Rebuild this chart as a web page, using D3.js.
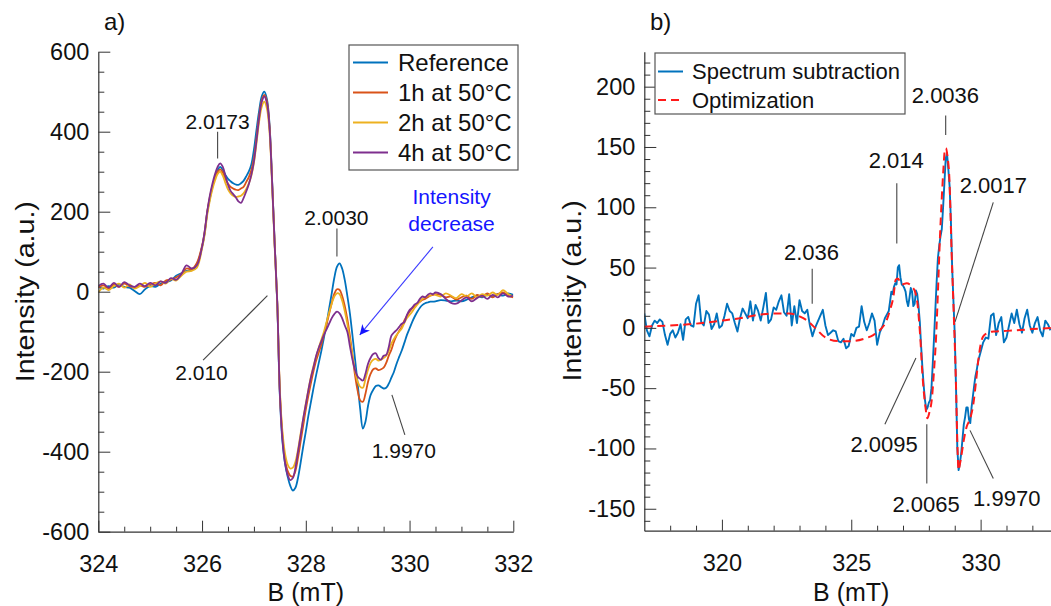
<!DOCTYPE html>
<html><head><meta charset="utf-8">
<script src="https://cdn.jsdelivr.net/npm/d3@7"></script>
<style>body{margin:0;background:#fff}svg text{font-family:"Liberation Sans",Arial,Helvetica,sans-serif}</style>
</head><body><svg id="c" width="1051" height="606"></svg>
<script>
// ---------------- DATA: panel a) ----------------
const seriesNamesA = ["Reference", "1h at 50°C", "2h at 50°C", "4h at 50°C"];
const fieldA = [324.0,324.1,324.2,324.3,324.4,324.5,324.6,324.7,324.8,324.9,
325.0,325.1,325.2,325.3,325.4,325.5,325.6,325.7,325.8,325.9,
326.00,326.05,326.10,326.15,326.20,326.25,326.30,326.35,326.40,326.45,
326.50,326.55,326.60,326.65,326.70,326.75,326.80,326.85,326.90,326.95,
327.00,327.05,327.10,327.15,327.20,327.25,327.30,327.35,327.40,327.45,
327.50,327.55,327.60,327.65,327.70,327.75,327.80,327.85,327.90,327.95,
328.00,328.05,328.10,328.15,328.20,328.25,328.30,328.35,328.40,328.45,
328.50,328.55,328.60,328.65,328.70,328.75,328.80,328.85,328.90,328.95,
329.00,329.05,329.10,329.15,329.20,329.25,329.30,329.35,329.40,329.45,
329.50,329.55,329.60,329.65,329.70,329.75,329.80,329.85,329.90,329.95,
330.00,330.05,330.10,330.15,330.20,330.25,330.30,330.35,330.40,330.45,
330.50,
330.6,330.7,330.8,330.9,331.0,331.1,331.2,331.3,331.4,331.5,331.6,331.7,331.8,331.9,332.0];

const refA = [12,8,14,10,18,12,10,2,-6,6,
14,12,20,24,28,40,46,52,54,68,
112,146,198,232,262,286,303,312,304,292,
282,276,271,268,267,271,277,288,300,318,
355,405,452,488,500,482,420,280,120,-30,
-260,-375,-430,-462,-485,-497,-490,-465,-428,-387,
-350,-310,-275,-240,-208,-178,-148,-115,-80,-42,
-4,35,62,71,58,30,-10,-54,-110,-170,
-230,-295,-342,-325,-285,-258,-245,-236,-234,-238,
-242,-240,-230,-215,-200,-180,-163,-147,-128,-108,
-92,-76,-62,-50,-40,-33,-29,-27,-25,-25,
-24,
-21,-22,-24,-22,-24,-20,-14,-10,-14,-8,-12,-6,-10,-4,-8];

const h1A = [10,16,8,18,12,20,14,10,16,12,
18,22,16,28,30,36,44,58,56,72,
115,150,200,236,264,286,300,306,298,282,
270,262,258,255,254,258,262,274,286,304,
334,385,438,478,492,476,415,278,120,-25,
-250,-360,-420,-448,-460,-462,-448,-415,-375,-335,
-295,-260,-228,-198,-172,-152,-132,-108,-82,-55,
-28,-5,6,5,-10,-35,-68,-110,-160,-210,
-248,-272,-275,-255,-225,-205,-194,-192,-196,-194,
-190,-178,-160,-145,-125,-110,-98,-88,-72,-60,
-50,-42,-36,-30,-25,-20,-18,-14,-10,-8,
-6,
-8,-14,-12,-20,-14,-10,-18,-8,-12,-4,-14,-6,-2,-10,-14];

const h2A = [-2,10,4,14,20,10,18,8,14,22,
12,20,26,20,32,28,40,50,52,60,
108,142,192,228,256,278,294,300,290,272,
256,246,240,237,238,240,246,256,270,290,
322,372,425,462,475,458,400,268,112,-30,
-245,-350,-405,-432,-442,-440,-425,-395,-355,-318,
-280,-245,-212,-185,-162,-140,-120,-100,-76,-52,
-30,-12,-4,-6,-22,-48,-80,-120,-160,-198,
-225,-238,-240,-218,-195,-178,-170,-168,-172,-170,
-166,-160,-148,-130,-118,-108,-100,-92,-78,-66,
-58,-50,-40,-32,-24,-18,-14,-10,-10,-6,
-8,
-12,-4,-10,-16,-6,-12,-4,-14,-6,-10,-2,-8,4,-6,-12];

const h4A = [14,20,10,22,12,24,16,12,20,14,
22,16,26,22,34,30,44,66,58,66,
112,150,200,240,270,294,312,321,312,290,
268,252,244,236,226,222,234,250,268,292,
326,378,434,474,488,472,410,275,118,-28,
-255,-368,-428,-458,-471,-466,-440,-400,-360,-318,
-282,-246,-214,-188,-160,-140,-124,-108,-94,-80,
-66,-56,-50,-54,-66,-84,-100,-136,-170,-196,
-212,-218,-222,-205,-180,-165,-156,-154,-166,-170,
-160,-158,-138,-110,-102,-96,-88,-80,-76,-58,
-46,-40,-32,-28,-18,-12,-14,-8,-4,-6,
-2,
-6,-18,-28,-30,-22,-14,-24,-16,-10,-18,-8,-14,-4,-12,-10];

const xTicksA = [324,326,328,330,332];
const yTicksA = [-600,-400,-200,0,200,400,600];

// ---------------- DATA: panel b) ----------------
const seriesNamesB = ["Spectrum subtraction", "Optimization"];
const fieldSub = [317.0,317.1,317.2,317.3,317.4,317.5,317.6,317.7,317.8,317.9,
318.0,318.1,318.2,318.3,318.4,318.5,318.6,318.7,318.8,318.9,
319.0,319.1,319.2,319.3,319.4,319.5,319.6,319.7,319.8,319.9,
320.0,320.1,320.2,320.3,320.4,320.5,320.6,320.7,320.8,320.9,
321.0,321.1,321.2,321.3,321.4,321.5,321.6,321.7,321.8,321.9,
322.0,322.1,322.2,322.3,322.4,322.5,322.6,322.7,322.8,322.9,
323.0,323.1,323.2,323.3,323.4,323.5,323.6,323.7,323.8,323.9,
324.0,324.1,324.2,324.3,324.4,324.5,324.6,324.7,324.8,324.9,
325.0,325.1,325.2,325.3,325.4,325.5,325.6,325.7,325.8,325.9,
326.0,326.1,326.2,326.3,326.4,
326.45,326.50,326.55,326.60,326.65,326.70,326.75,326.80,326.85,326.90,
326.95,327.00,327.05,327.10,327.15,327.20,327.25,327.30,327.35,327.40,
327.45,327.50,327.55,327.60,327.65,327.70,327.75,327.80,327.85,327.90,
327.95,328.00,328.05,328.10,328.15,328.20,328.25,328.30,328.35,328.40,
328.45,328.50,328.55,328.60,328.65,328.70,328.75,328.80,328.85,328.90,
328.95,329.00,329.05,329.10,329.15,329.20,329.25,329.30,329.35,329.40,
329.45,329.50,329.55,329.60,329.65,329.70,329.75,329.80,329.85,329.90,
329.95,330.00,
330.1,330.2,330.3,330.4,330.5,330.6,330.7,330.8,330.9,331.0,
331.1,331.2,331.3,331.4,331.5,331.6,331.7,331.8,331.9,332.0,
332.1,332.2,332.3,332.4,332.5,332.6,332.7];

const subI = [12,-2,-7,2,6,4,7,5,-6,-14,
-5,-2,-8,-4,3,-10,7,9,2,1,
20,27,5,2,14,11,-1,3,12,0,
2,10,20,14,12,4,-3,8,16,12,
8,22,6,19,14,6,17,29,4,7,
17,15,22,27,13,10,28,2,18,4,
23,14,12,15,2,-7,0,5,10,15,
2,-6,-4,-2,-3,-11,-12,-9,-17,-15,
-5,-7,0,1,18,5,-2,4,12,6,
-14,-4,1,8,12,
14,22,30,28,34,37,36,50,52,42,
36,35,33,30,22,18,25,33,30,18,
20,31,28,18,5,-15,-33,-48,-60,-68,
-66,-62,-60,-50,-30,-8,15,38,58,68,
76,82,100,120,140,145,132,118,90,50,
22,-5,-50,-100,-118,-112,-104,-92,-80,-74,
-66,-66,-76,-79,-66,-57,-48,-40,-35,-28,
-24,-20,
-12,-8,-9,10,12,-6,4,9,-12,-8,
2,12,4,15,3,-4,8,15,2,-4,
4,9,-2,-7,6,3,-2];

const fieldOpt = [317.0,318.0,319.0,320.0,320.7,321.5,322.0,322.6,323.0,323.3,323.6,324.0,324.5,325.0,325.5,325.85,326.1,326.37,326.5,326.63,326.72,326.8,326.95,327.14,327.35,327.48,327.56,327.62,327.68,327.74,327.8,327.87,327.94,328.02,328.11,328.2,328.28,328.35,328.43,328.5,328.56,328.62,328.66,328.72,328.79,328.88,328.97,329.05,329.1,329.15,329.2,329.27,329.35,329.46,329.6,329.72,329.82,329.91,330.0,330.1,330.3,330.49,331.0,331.4,332.0,332.74];
const optI = [1,2,3.5,6,8,11,12,12,9.5,6,0,-8,-11,-11,-9,-6,-2,6.5,15,26,40,41,36,37,34,29,20,6,-12,-35,-52,-66,-75,-70,-60,-35,-7,30,76,108,131,148,149,142,125,62,6.5,-49,-95,-118,-113,-104,-93,-82,-75,-63,-45,-27,-14,-7,-4,-3,-2.5,-2,-1,0];

const xTicksB = [320,325,330];
const yTicksB = [-150,-100,-50,0,50,100,150,200];

// annotations (data coordinates)
const notesA = [
  {t:"2.0173", tx:326.30, ty:426, l:[[326.30,400],[326.30,333]]},
  {t:"2.0030", tx:328.59, ty:185, l:[[328.60,158],[328.60,88]]},
  {t:"2.010",  tx:325.99, ty:-203, l:[[326.02,-171],[327.26,-10]]},
  {t:"1.9970", tx:329.89, ty:-396, l:[[329.91,-358],[329.66,-258]]}
];
const decreaseText = ["Intensity", "decrease"];
const decreasePos = [[330.81,237],[330.81,171]];
const decreaseArrow = [[330.45,112],[329.04,-108]];
const notesB = [
  {t:"2.0036", tx:328.64, ty:193, l:[[328.65,176],[328.65,160]]},
  {t:"2.014",  tx:326.74, ty:139, l:[[326.76,120],[326.76,70]]},
  {t:"2.0017", tx:330.49, ty:118, l:[[330.49,104],[329.01,5]]},
  {t:"2.036",  tx:323.46, ty:63, l:[[323.49,49],[323.49,20]]},
  {t:"2.0095", tx:326.27, ty:-96, l:[[326.30,-80],[327.50,-25]]},
  {t:"2.0065", tx:327.89, ty:-146, l:[[327.92,-129],[327.92,-80]]},
  {t:"1.9970", tx:331.01, ty:-141, l:[[330.49,-125],[329.59,-85]]}
];

// ---------------- checks ----------------
[refA,h1A,h2A,h4A].forEach((s,i)=>{ if (s.length!==fieldA.length) throw new Error("A series "+i+" len "+s.length+" vs "+fieldA.length); });
if (subI.length!==fieldSub.length) throw new Error("sub len "+subI.length+" vs "+fieldSub.length);
if (optI.length!==fieldOpt.length) throw new Error("opt len");

// ---------------- DRAW ----------------
const svg = d3.select("#c");
const colorsA = ["#0072BD","#D95319","#EDB120","#7E2F8E"];
const axisColor = "#333";

const xA = d3.scaleLinear().domain([324,332]).range([98.3,513.3]);
const yA = d3.scaleLinear().domain([-600,600]).range([531.7,51.7]);
const xB = d3.scaleLinear().domain([317,332.74]).range([644.3,1051.5]);
const yB = d3.scaleLinear().domain([-168.2,229]).range([530.7,51.7]);

function drawAxes(x, y, xMaj, xMin, yMaj, yMin, fs, padY) {
  const bottom = y.range()[0], left = x.range()[0];
  const g = svg.append("g");
  g.append("g").attr("transform",`translate(0,${bottom})`)
    .call(d3.axisBottom(x).tickValues(xMin).tickSize(-5).tickFormat(""))
    .call(a=>a.select(".domain").remove());
  g.append("g").attr("transform",`translate(${left},0)`)
    .call(d3.axisLeft(y).tickValues(yMin).tickSize(-6).tickFormat(""))
    .call(a=>a.select(".domain").remove());
  g.append("g").attr("transform",`translate(0,${bottom})`)
    .call(d3.axisBottom(x).tickValues(xMaj).tickSize(-11).tickSizeOuter(0).tickPadding(24).tickFormat(d3.format("d")));
  g.append("g").attr("transform",`translate(${left},0)`)
    .call(d3.axisLeft(y).tickValues(yMaj).tickSize(-12).tickSizeOuter(0).tickPadding(padY).tickFormat(d=>String(d)));
  g.selectAll("path.domain").attr("stroke",axisColor).attr("stroke-width",1.2);
  g.selectAll(".tick line").attr("stroke",axisColor).attr("stroke-width",1);
  g.selectAll(".tick text").attr("fill","#111").attr("font-size",fs)
    .attr("font-family","'Liberation Sans',Arial,sans-serif");
}

// ---- panel a
const minorXA = d3.range(324,332.01,0.5).filter(v=>Math.abs(v%2)>1e-6);
const minorYA = d3.range(-600,600.1,50).filter(v=>Math.abs(v%200)>1e-6);
svg.append("clipPath").attr("id","clipA").append("rect")
  .attr("x",98.3).attr("y",40).attr("width",415).attr("height",491.7);
const lineA = d3.line().x((d,i)=>xA(fieldA[i])).y(d=>yA(d)).curve(d3.curveCatmullRom.alpha(0.5));
const gA = svg.append("g").attr("clip-path","url(#clipA)");
[refA,h1A,h2A,h4A].forEach((s,i)=>{
  gA.append("path").datum(s).attr("d",lineA).attr("fill","none")
    .attr("stroke",colorsA[i]).attr("stroke-width",1.8).attr("stroke-linejoin","round");
});
drawAxes(xA,yA,xTicksA,minorXA,yTicksA,minorYA,23.5,9);

const noteG = svg.append("g");
notesA.forEach(n=>{
  noteG.append("line").attr("x1",xA(n.l[0][0])).attr("y1",yA(n.l[0][1]))
    .attr("x2",xA(n.l[1][0])).attr("y2",yA(n.l[1][1])).attr("stroke","#444").attr("stroke-width",1.1);
  noteG.append("text").attr("x",xA(n.tx)).attr("y",yA(n.ty)).attr("dy","0.36em")
    .attr("text-anchor","middle").attr("font-size",21).attr("fill","#111").text(n.t);
});
decreaseText.forEach((t,i)=>{
  noteG.append("text").attr("x",xA(decreasePos[i][0])).attr("y",yA(decreasePos[i][1])).attr("dy","0.36em")
    .attr("text-anchor","middle").attr("font-size",21).attr("fill","#1515ff").text(t);
});
svg.append("defs").append("marker").attr("id","arr").attr("viewBox","0 0 10 10")
  .attr("refX",10).attr("refY",5).attr("markerWidth",12).attr("markerHeight",10)
  .attr("markerUnits","userSpaceOnUse").attr("orient","auto")
  .append("path").attr("d","M0,0 L10,5 L0,10 L3,5 Z").attr("fill","#1515ff");
noteG.append("line").attr("x1",xA(decreaseArrow[0][0])).attr("y1",yA(decreaseArrow[0][1]))
  .attr("x2",xA(decreaseArrow[1][0])).attr("y2",yA(decreaseArrow[1][1]))
  .attr("stroke","#3a3aff").attr("stroke-width",1.1).attr("marker-end","url(#arr)");

const legA = svg.append("g");
legA.append("rect").attr("x",349).attr("y",45).attr("width",169).attr("height",125)
  .attr("fill","#fff").attr("stroke","#555").attr("stroke-width",1.2);
seriesNamesA.forEach((nm,i)=>{
  const yy = 62.5 + i*30;
  legA.append("line").attr("x1",353).attr("x2",388).attr("y1",yy).attr("y2",yy)
    .attr("stroke",colorsA[i]).attr("stroke-width",1.8);
  legA.append("text").attr("x",398).attr("y",yy).attr("dy","0.36em").attr("font-size",24).attr("fill","#111").text(nm);
});

// ---- panel b
const minorXB = d3.range(318,333,1).filter(v=>v%5!==0);
const minorYB = d3.range(-160,230,10).filter(v=>v%50!==0);
svg.append("clipPath").attr("id","clipB").append("rect")
  .attr("x",644.3).attr("y",45).attr("width",410).attr("height",485.7);
const gB = svg.append("g").attr("clip-path","url(#clipB)");
const lineSub = d3.line().x((d,i)=>xB(fieldSub[i])).y(d=>yB(d));
const lineOpt = d3.line().x((d,i)=>xB(fieldOpt[i])).y(d=>yB(d)).curve(d3.curveMonotoneX);
gB.append("path").datum(subI).attr("d",lineSub).attr("fill","none")
  .attr("stroke","#0072BD").attr("stroke-width",1.9).attr("stroke-linejoin","round");
gB.append("path").datum(optI).attr("d",lineOpt).attr("fill","none")
  .attr("stroke","#FF1A1A").attr("stroke-width",2).attr("stroke-dasharray","8,5");
drawAxes(xB,yB,xTicksB,minorXB,yTicksB,minorYB,23.5,9);

notesB.forEach(n=>{
  noteG.append("line").attr("x1",xB(n.l[0][0])).attr("y1",yB(n.l[0][1]))
    .attr("x2",xB(n.l[1][0])).attr("y2",yB(n.l[1][1])).attr("stroke","#444").attr("stroke-width",1.1);
  noteG.append("text").attr("x",xB(n.tx)).attr("y",yB(n.ty)).attr("dy","0.36em")
    .attr("text-anchor","middle").attr("font-size",22).attr("fill","#111").text(n.t);
});

const legB = svg.append("g");
legB.append("rect").attr("x",655).attr("y",53).attr("width",250).attr("height",61)
  .attr("fill","#fff").attr("stroke","#555").attr("stroke-width",1.2);
const legStyles = [{c:"#0072BD",d:null},{c:"#FF1A1A",d:"8,5"}];
seriesNamesB.forEach((nm,i)=>{
  const yy = 71.5 + i*28.5;
  legB.append("line").attr("x1",658).attr("x2",683).attr("y1",yy).attr("y2",yy)
    .attr("stroke",legStyles[i].c).attr("stroke-width",2).attr("stroke-dasharray",legStyles[i].d);
  legB.append("text").attr("x",692).attr("y",yy).attr("dy","0.36em").attr("font-size",22).attr("fill","#111").text(nm);
});

// titles
svg.append("text").attr("x",xA(328)).attr("y",601).attr("text-anchor","middle").attr("font-size",25).attr("fill","#111").text("B (mT)");
svg.append("text").attr("x",xB(325)).attr("y",601).attr("text-anchor","middle").attr("font-size",25).attr("fill","#111").text("B (mT)");
svg.append("text").attr("transform",`translate(34,${yA(0)}) rotate(-90) scale(1.1,1)`).attr("text-anchor","middle").attr("font-size",26).attr("fill","#111").text("Intensity (a.u.)");
svg.append("text").attr("transform",`translate(581,${yB(0)-37}) rotate(-90) scale(1.1,1)`).attr("text-anchor","middle").attr("font-size",26).attr("fill","#111").text("Intensity (a.u.)");
svg.append("text").attr("x",104).attr("y",30).attr("font-size",24).attr("fill","#111").text("a)");
svg.append("text").attr("x",650).attr("y",30).attr("font-size",24).attr("fill","#111").text("b)");
</script></body></html>
